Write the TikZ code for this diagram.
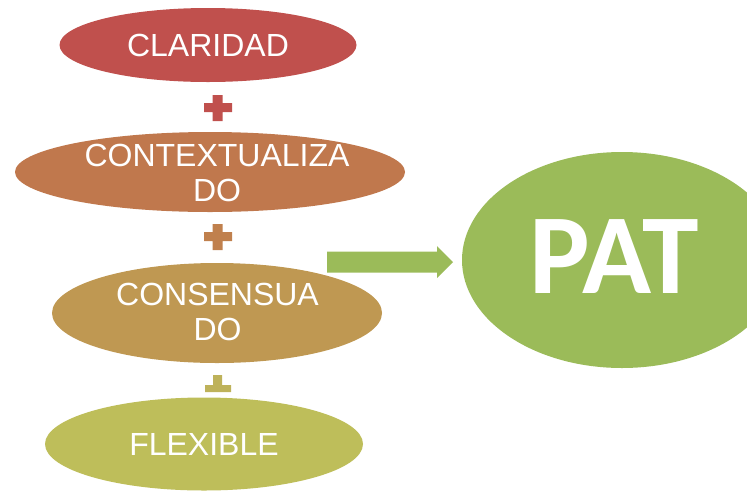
\documentclass[tikz,border=0pt]{standalone}
\usepackage{fontspec}
\setmainfont{Liberation Sans}
\newfontfamily\patfont{Carlito}
\usetikzlibrary{shapes.geometric}
\definecolor{cRed}{RGB}{192,80,77}
\definecolor{cOrange}{RGB}{192,120,77}
\definecolor{cTan}{RGB}{191,152,82}
\definecolor{cOlive}{RGB}{190,190,90}
\definecolor{cGreen}{RGB}{155,187,89}
\definecolor{cPlusTwo}{RGB}{192,128,77}
\definecolor{cPlusThree}{RGB}{190,178,90}
\tikzset{
  blob/.style={ellipse, inner sep=0pt, draw=none},
  lbl/.style={text=white, font=\fontsize{32}{35}\selectfont, align=center, inner sep=0pt, anchor=base},
}
\begin{document}
\begin{tikzpicture}[x=1pt,y=-1pt]
\useasboundingbox (0,0) rectangle (747,491);
% ellipses
\node[blob, fill=cRed, minimum width=297pt, minimum height=74pt] (clar) at (208,45) {};
\node[blob, fill=cOrange, minimum width=390pt, minimum height=80pt] (cont) at (210,172) {};
\node[blob, fill=cTan, minimum width=330pt, minimum height=100pt] (cons) at (217,313) {};
\node[blob, fill=cOlive, minimum width=318pt, minimum height=93pt] (flex) at (204,444) {};
\node[blob, fill=cGreen, minimum width=320pt, minimum height=216pt] (pat) at (622,260) {};
% labels
\node[lbl] (tclar) at (208,56) {CLARIDAD};
\node[lbl] (tcont) at (217,201) {CONTEXTUALIZA\\DO};
\node[lbl] (tcons) at (217.5,340) {CONSENSUA\\DO};
\node[lbl] (tflex) at (204,455) {FLEXIBLE};
\node[text=white, font=\patfont\bfseries\fontsize{114}{114}\selectfont, inner sep=0pt, anchor=base] (tpat) at (614,293) {PAT};
% plus signs
\fill[cRed] (212.5,95) rectangle (222.5,121) (204,103) rectangle (232,112);
\fill[cPlusTwo] (212.5,224) rectangle (222.5,250) (204,232) rectangle (232,241);
\fill[cPlusThree] (213,375) rectangle (222,386) (205,385) rectangle (231,392);
% arrow
\coordinate (astart) at (327,262);
\coordinate (atip) at (453,262);
\fill[cGreen] ([yshift=10.5pt]astart) -- (437,251.5) -- (437,246) -- (atip) -- (437,278) -- (437,272.5) -- ([yshift=-10.5pt]astart) -- cycle;
\end{tikzpicture}
\end{document}
